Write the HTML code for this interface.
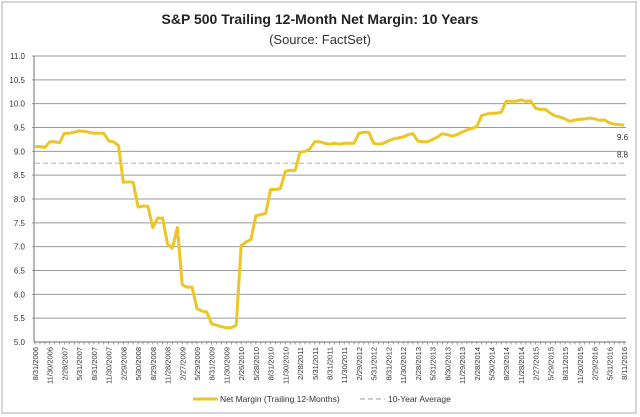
<!DOCTYPE html>
<html><head><meta charset="utf-8"><style>
html,body{margin:0;padding:0;background:#fff;}
svg{display:block;font-family:"Liberation Sans",sans-serif;}
</style></head><body>
<svg id="chart" width="640" height="417">
<rect x="2" y="2" width="634" height="411" fill="#fff" stroke="#c8c8c8" stroke-width="1.5"/>
<text x="320" y="24" text-anchor="middle" font-size="14" font-weight="bold" fill="#222">S&amp;P 500 Trailing 12-Month Net Margin: 10 Years</text>
<text x="320" y="44" text-anchor="middle" font-size="13" fill="#333">(Source: FactSet)</text>
<g id="grid"></g><g id="yl"></g><g id="xl"></g><g id="series"></g>
<g>
<line x1="193" y1="399" x2="218" y2="399" stroke="#EBC626" stroke-width="3"/>
<text x="220" y="402" font-size="8.5" fill="#333">Net Margin (Trailing 12-Months)</text>
<line x1="360" y1="399" x2="385" y2="399" stroke="#ccc" stroke-width="2" stroke-dasharray="5,3"/>
<text x="388" y="402" font-size="8.5" fill="#333">10-Year Average</text>
</g>
</svg>
<script>
const yTicks=[5.0,5.5,6.0,6.5,7.0,7.5,8.0,8.5,9.0,9.5,10.0,10.5,11.0];
const xLabels=["8/31/2006","11/30/2006","2/28/2007","5/31/2007","8/31/2007","11/30/2007","2/29/2008","5/30/2008","8/29/2008","11/28/2008","2/27/2009","5/29/2009","8/31/2009","11/30/2009","2/26/2010","5/28/2010","8/31/2010","11/30/2010","2/28/2011","5/31/2011","8/31/2011","11/30/2011","2/29/2012","5/31/2012","8/31/2012","11/30/2012","2/28/2013","5/31/2013","8/30/2013","11/29/2013","2/28/2014","5/30/2014","8/29/2014","11/28/2014","2/27/2015","5/29/2015","8/31/2015","11/30/2015","2/29/2016","5/31/2016","8/11/2016"];
const netMargin=[9.1,9.1,9.08,9.2,9.2,9.18,9.38,9.38,9.4,9.43,9.42,9.4,9.38,9.38,9.38,9.22,9.2,9.12,8.35,8.36,8.35,7.83,7.85,7.85,7.4,7.6,7.6,7.05,6.97,7.4,6.2,6.15,6.15,5.7,5.65,5.63,5.38,5.35,5.32,5.3,5.3,5.35,7.02,7.1,7.15,7.65,7.67,7.7,8.2,8.2,8.22,8.58,8.6,8.6,8.98,9.0,9.05,9.2,9.2,9.17,9.15,9.17,9.15,9.17,9.17,9.17,9.38,9.4,9.4,9.17,9.15,9.17,9.22,9.26,9.28,9.3,9.35,9.37,9.22,9.2,9.2,9.25,9.3,9.37,9.35,9.32,9.35,9.4,9.45,9.48,9.52,9.75,9.78,9.8,9.8,9.82,10.05,10.05,10.05,10.08,10.05,10.06,9.9,9.88,9.88,9.8,9.74,9.72,9.68,9.63,9.66,9.67,9.68,9.7,9.68,9.65,9.66,9.6,9.57,9.56,9.55];
const average=[8.75];
const endLabels=["9.6","8.8"];
const NS="http://www.w3.org/2000/svg";
const X0=35,X1=624,Y0=342,Y1=56,VMIN=5,VMAX=11;
const y=v=>Y0-(v-VMIN)/(VMAX-VMIN)*(Y0-Y1);
const xm=i=>X0+i*(X1-X0)/(netMargin.length-1);
const xq=i=>X0+i*(X1-X0)/(xLabels.length-1);
function mk(t,a,p){const e=document.createElementNS(NS,t);for(const k in a)e.setAttribute(k,a[k]);p.appendChild(e);return e;}
const grid=document.getElementById('grid'),yl=document.getElementById('yl'),xl=document.getElementById('xl'),ser=document.getElementById('series');
yTicks.forEach(v=>{
  if(v>VMIN){const g=mk('line',{x1:X0-3,x2:626,y1:y(v),y2:y(v),stroke:'#999','stroke-width':1},grid);
  
  }
  const t=mk('text',{x:25,y:y(v)+3,'text-anchor':'end','font-size':8,fill:'#333'},yl);t.textContent=v.toFixed(1);
  
  
});
const ax=mk('line',{x1:X0-1,x2:X0-1,y1:Y1,y2:Y0,stroke:'#888','stroke-width':1.2},grid);


const bx=mk('line',{x1:X0-1,x2:626,y1:Y0,y2:Y0,stroke:'#888','stroke-width':1.2},grid);


for(let i=0;i<netMargin.length;i++){mk('line',{x1:xm(i),x2:xm(i),y1:Y0,y2:Y0+2.5,stroke:'#888','stroke-width':0.8},grid);}
xLabels.forEach((s,i)=>{
  const t=mk('text',{x:0,y:0,'text-anchor':'end','font-size':7.5,fill:'#333',transform:`translate(${xq(i)+3},${Y0+5}) rotate(-90)`},xl);t.textContent=s;
  
  
});
const av=mk('line',{x1:X0,x2:X1,y1:y(average[0]),y2:y(average[0]),stroke:'#ccc','stroke-width':1.5,'stroke-dasharray':'5,3'},ser);


const p=mk('polyline',{points:netMargin.map((v,i)=>xm(i)+','+y(v)).join(' '),fill:'none',stroke:'#EBC626','stroke-width':3,'stroke-linejoin':'round'},ser);


const l1=mk('text',{x:617,y:y(netMargin[netMargin.length-1])+15,'font-size':8,fill:'#333'},ser);l1.textContent=endLabels[0];


const l2=mk('text',{x:617,y:y(average[0])-6,'font-size':8,fill:'#333'},ser);l2.textContent=endLabels[1];


</script>
</body></html>
